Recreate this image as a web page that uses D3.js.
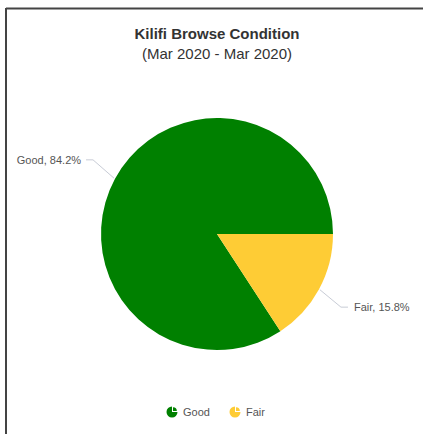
<!DOCTYPE html>
<html><head><meta charset="utf-8">
<script src="https://cdn.jsdelivr.net/npm/d3@7"></script>
<style>html,body{margin:0;padding:0;background:#fff;}svg{display:block;font-family:"Liberation Sans",Arial,Helvetica,sans-serif;}</style>
</head><body>
<script>
const categories = ["Good", "Fair"];
const values = [84.2, 15.8];
const colors = ["#008000", "#fecc35"];
const title = "Kilifi Browse Condition";
const subtitle = "(Mar 2020 - Mar 2020)";

const W = 423, H = 434;
const svg = d3.select("body").append("svg").attr("width", W).attr("height", H);

// frame (left and top)
svg.append("line").attr("x1", 6).attr("y1", 8.5).attr("x2", W).attr("y2", 8.5).attr("stroke", "#444").attr("stroke-width", 2);
svg.append("line").attr("x1", 6).attr("y1", 8).attr("x2", 6).attr("y2", H).attr("stroke", "#444").attr("stroke-width", 2);

svg.append("text").attr("x", 217).attr("y", 39).attr("text-anchor", "middle")
  .attr("font-size", 15).attr("font-weight", "bold").attr("fill", "#333").text(title);
svg.append("text").attr("x", 217).attr("y", 59).attr("text-anchor", "middle")
  .attr("font-size", 15).attr("fill", "#333").text(subtitle);

const cx = 217, cy = 234, R = 116;
const total = d3.sum(values);
const tau = 2 * Math.PI;
const start = Math.PI / 2 - (values[0] / total) * tau;
const pie = d3.pie().sort(null).startAngle(start).endAngle(start + tau);
const arcs = pie(values);
const arc = d3.arc().innerRadius(0).outerRadius(R);

const g = svg.append("g").attr("transform", `translate(${cx},${cy})`);
g.selectAll("path.slice").data(arcs).join("path").attr("class", "slice")
  .attr("d", arc).attr("fill", (d, i) => colors[i]);

// labels with connectors
arcs.forEach((d, i) => {
  const mid = (d.startAngle + d.endAngle) / 2;
  const sx = Math.sin(mid), sy = -Math.cos(mid);
  const p0 = [sx * (R + 1), sy * (R + 1)];
  const right = sx > 0;
  const p1 = [sx * 141, sy * 141 + (right ? 6 : -7)];
  const p2 = [p1[0] + (right ? 7 : -7), p1[1]];
  g.append("polyline").attr("points", [p0, p1, p2].map(p => p.join(",")).join(" "))
    .attr("fill", "none").attr("stroke", "#c8ccd6").attr("stroke-width", 1);
  g.append("text").attr("x", p2[0] + (right ? 6 : -5)).attr("y", p2[1] + 4)
    .attr("text-anchor", right ? "start" : "end").attr("font-size", 11).attr("fill", "#555")
    .text(`${categories[i]}, ${values[i].toFixed(1)}%`);
});

// legend
const legend = svg.append("g").attr("transform", "translate(0,412)");
const iconArcBig = d3.arc().innerRadius(0).outerRadius(5.5).startAngle(Math.PI / 2).endAngle(tau);
const iconArcSmall = d3.arc().innerRadius(0).outerRadius(5.5).startAngle(0).endAngle(Math.PI / 2);
const legX = [172, 235];
categories.forEach((c, i) => {
  const li = legend.append("g").attr("transform", `translate(${legX[i]},0)`);
  li.append("path").attr("d", iconArcBig()).attr("fill", colors[i]);
  li.append("path").attr("d", iconArcSmall()).attr("fill", colors[i]).attr("transform", "translate(1,-1) scale(0.7)");
  li.append("text").attr("x", 11).attr("y", 4).attr("font-size", 11).attr("fill", "#555").text(c);
});
</script>
</body></html>
